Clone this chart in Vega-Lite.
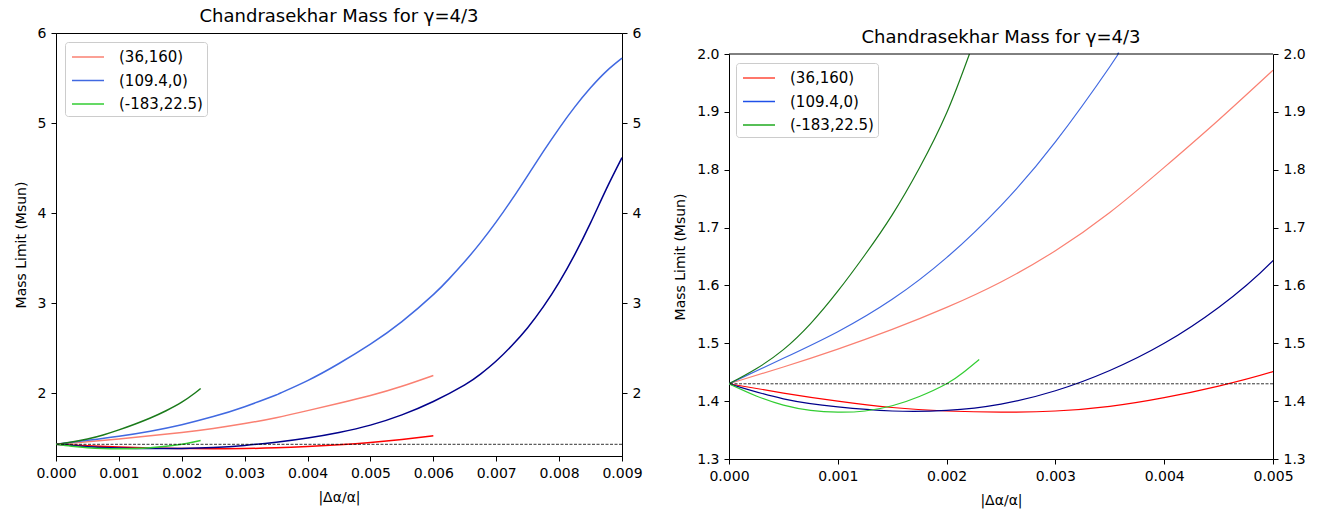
{
  "$schema": "https://vega.github.io/schema/vega-lite/v6.json",
  "background": "white",
  "padding": {"left": 13, "top": 7, "right": 5, "bottom": 5},
  "spacing": 30,
  "datasets": {
    "curves": [
      {"s": "s1u", "x": 0, "y": 1.43}, {"s": "s1u", "x": 0.0005, "y": 1.459}, {"s": "s1u", "x": 0.001, "y": 1.49}, {"s": "s1u", "x": 0.0015, "y": 1.524}, {"s": "s1u", "x": 0.002, "y": 1.562}, {"s": "s1u", "x": 0.0025, "y": 1.606}, {"s": "s1u", "x": 0.003, "y": 1.66}, {"s": "s1u", "x": 0.0035, "y": 1.726}, {"s": "s1u", "x": 0.004, "y": 1.804}, {"s": "s1u", "x": 0.0045, "y": 1.886}, {"s": "s1u", "x": 0.005, "y": 1.972}, {"s": "s1u", "x": 0.0055, "y": 2.075}, {"s": "s1u", "x": 0.006, "y": 2.195},
      {"s": "s2u", "x": 0, "y": 1.43}, {"s": "s2u", "x": 0.0005, "y": 1.474}, {"s": "s2u", "x": 0.001, "y": 1.52}, {"s": "s2u", "x": 0.0015, "y": 1.576}, {"s": "s2u", "x": 0.002, "y": 1.648}, {"s": "s2u", "x": 0.0025, "y": 1.738}, {"s": "s2u", "x": 0.003, "y": 1.848}, {"s": "s2u", "x": 0.0035, "y": 1.978}, {"s": "s2u", "x": 0.00357, "y": 2.0}, {"s": "s2u", "x": 0.004, "y": 2.138}, {"s": "s2u", "x": 0.0045, "y": 2.328}, {"s": "s2u", "x": 0.005, "y": 2.543}, {"s": "s2u", "x": 0.0055, "y": 2.793}, {"s": "s2u", "x": 0.006, "y": 3.093}, {"s": "s2u", "x": 0.00625, "y": 3.268}, {"s": "s2u", "x": 0.0065, "y": 3.461}, {"s": "s2u", "x": 0.00675, "y": 3.671}, {"s": "s2u", "x": 0.007, "y": 3.901}, {"s": "s2u", "x": 0.00725, "y": 4.151}, {"s": "s2u", "x": 0.0075, "y": 4.416}, {"s": "s2u", "x": 0.00775, "y": 4.684}, {"s": "s2u", "x": 0.008, "y": 4.941}, {"s": "s2u", "x": 0.00825, "y": 5.179}, {"s": "s2u", "x": 0.0085, "y": 5.391}, {"s": "s2u", "x": 0.00875, "y": 5.574}, {"s": "s2u", "x": 0.009, "y": 5.72},
      {"s": "s3u", "x": 0, "y": 1.43}, {"s": "s3u", "x": 0.00025, "y": 1.456}, {"s": "s3u", "x": 0.0005, "y": 1.489}, {"s": "s3u", "x": 0.00075, "y": 1.534}, {"s": "s3u", "x": 0.001, "y": 1.59}, {"s": "s3u", "x": 0.00125, "y": 1.653}, {"s": "s3u", "x": 0.0015, "y": 1.722}, {"s": "s3u", "x": 0.00175, "y": 1.803}, {"s": "s3u", "x": 0.002, "y": 1.898}, {"s": "s3u", "x": 0.00221, "y": 2.0}, {"s": "s3u", "x": 0.0023, "y": 2.05},
      {"s": "s1l", "x": 0, "y": 1.43}, {"s": "s1l", "x": 0.0005, "y": 1.414}, {"s": "s1l", "x": 0.001, "y": 1.4}, {"s": "s1l", "x": 0.0015, "y": 1.389}, {"s": "s1l", "x": 0.002, "y": 1.383}, {"s": "s1l", "x": 0.0025, "y": 1.381}, {"s": "s1l", "x": 0.003, "y": 1.383}, {"s": "s1l", "x": 0.0035, "y": 1.391}, {"s": "s1l", "x": 0.004, "y": 1.406}, {"s": "s1l", "x": 0.0045, "y": 1.426}, {"s": "s1l", "x": 0.005, "y": 1.451}, {"s": "s1l", "x": 0.0055, "y": 1.484}, {"s": "s1l", "x": 0.006, "y": 1.525},
      {"s": "s2l", "x": 0, "y": 1.43}, {"s": "s2l", "x": 0.0005, "y": 1.404}, {"s": "s2l", "x": 0.001, "y": 1.39}, {"s": "s2l", "x": 0.0015, "y": 1.383}, {"s": "s2l", "x": 0.002, "y": 1.384}, {"s": "s2l", "x": 0.0025, "y": 1.395}, {"s": "s2l", "x": 0.003, "y": 1.418}, {"s": "s2l", "x": 0.0035, "y": 1.453}, {"s": "s2l", "x": 0.004, "y": 1.5}, {"s": "s2l", "x": 0.0045, "y": 1.562}, {"s": "s2l", "x": 0.005, "y": 1.643}, {"s": "s2l", "x": 0.0055, "y": 1.757}, {"s": "s2l", "x": 0.006, "y": 1.905}, {"s": "s2l", "x": 0.0065, "y": 2.09}, {"s": "s2l", "x": 0.00675, "y": 2.209}, {"s": "s2l", "x": 0.007, "y": 2.355}, {"s": "s2l", "x": 0.00725, "y": 2.528}, {"s": "s2l", "x": 0.0075, "y": 2.726}, {"s": "s2l", "x": 0.00775, "y": 2.959}, {"s": "s2l", "x": 0.008, "y": 3.229}, {"s": "s2l", "x": 0.00825, "y": 3.54}, {"s": "s2l", "x": 0.0085, "y": 3.89}, {"s": "s2l", "x": 0.00875, "y": 4.265}, {"s": "s2l", "x": 0.009, "y": 4.615},
      {"s": "s3l", "x": 0, "y": 1.43}, {"s": "s3l", "x": 0.00025, "y": 1.409}, {"s": "s3l", "x": 0.0005, "y": 1.393}, {"s": "s3l", "x": 0.00075, "y": 1.384}, {"s": "s3l", "x": 0.001, "y": 1.381}, {"s": "s3l", "x": 0.00125, "y": 1.383}, {"s": "s3l", "x": 0.0015, "y": 1.392}, {"s": "s3l", "x": 0.00175, "y": 1.408}, {"s": "s3l", "x": 0.002, "y": 1.43}, {"s": "s3l", "x": 0.00215, "y": 1.449}, {"s": "s3l", "x": 0.0023, "y": 1.472}
    ],
    "ref": [{"y": 1.43}],
    "topspine": [{"y": 2.0}]
  },
  "config": {
    "font": "DejaVu Sans",
    "view": {"stroke": "black", "strokeWidth": 1},
    "axis": {
      "domainColor": "black", "tickColor": "black", "labelColor": "black", "titleColor": "black",
      "grid": false, "labelFontSize": 14, "titleFontSize": 14, "titleFontWeight": "normal",
      "tickSize": 5, "labelPadding": 5, "titlePadding": 9, "domainWidth": 1, "tickWidth": 1,
      "labelFont": "DejaVu Sans", "titleFont": "DejaVu Sans", "labelFlush": false
    },
    "title": {"fontSize": 18, "fontWeight": "normal", "font": "DejaVu Sans", "color": "black", "offset": 0},
    "legend": {
      "orient": "top-left", "offset": 9, "padding": 4, "strokeColor": "#cccccc", "fillColor": "rgba(255,255,255,0.85)",
      "cornerRadius": 3, "symbolType": "M-0.8,0H2.4", "symbolSize": 400, "symbolStrokeWidth": 1.5,
      "labelFontSize": 15, "labelFont": "DejaVu Sans", "labelColor": "black", "labelOffset": 28, "rowPadding": 4.5, "title": null
    }
  },
  "hconcat": [
    {
      "width": 566, "height": 423,
      "title": {"text": "Chandrasekhar Mass for γ=4/3", "dy": 4},
      "layer": [
        {
          "data": {"name": "curves"},
          "mark": {"type": "line", "strokeWidth": 1.5, "interpolate": "natural"},
          "encoding": {
            "x": {"field": "x", "type": "quantitative", "scale": {"domain": [0, 0.009], "nice": false, "zero": false},
                  "axis": {"values": [0, 0.001, 0.002, 0.003, 0.004, 0.005, 0.006, 0.007, 0.008, 0.009], "format": ".3f", "title": "|Δα/α|", "titlePadding": 10}},
            "y": {"field": "y", "type": "quantitative", "scale": {"domain": [1.3, 6], "nice": false, "zero": false},
                  "axis": {"values": [2, 3, 4, 5, 6], "format": "d", "title": "Mass Limit (Msun)"}},
            "color": {"field": "s", "type": "nominal",
                      "scale": {"domain": ["s1u", "s2u", "s3l", "s1l", "s2l", "s3u"], "range": ["#fa8072", "#4169e1", "#32cd32", "#ff0000", "#00008b", "#1a7a1a"]},
                      "legend": {"values": ["s1u", "s2u", "s3l"], "labelExpr": "datum.label == 's1u' ? '(36,160)' : datum.label == 's2u' ? '(109.4,0)' : '(-183,22.5)'"}}
          }
        },
        {
          "data": {"name": "ref"},
          "mark": {"type": "rule", "strokeDash": [3, 1.5], "color": "black", "strokeWidth": 0.8},
          "encoding": {
            "y": {"field": "y", "type": "quantitative", "scale": {"domain": [1.3, 6], "nice": false, "zero": false},
                  "axis": {"orient": "right", "values": [2, 3, 4, 5, 6], "format": "d", "title": null}}
          }
        }
      ],
      "resolve": {"scale": {"y": "independent"}}
    },
    {
      "width": 544, "height": 426,
      "view": {"stroke": null},
      "title": {"text": "Chandrasekhar Mass for γ=4/3", "dy": 18},
      "layer": [
        {
          "data": {"name": "curves"},
          "transform": [{"filter": "datum.y <= 2.0001"}],
          "mark": {"type": "line", "strokeWidth": 1.2, "interpolate": "natural", "clip": true},
          "encoding": {
            "x": {"field": "x", "type": "quantitative", "scale": {"domain": [0, 0.005], "nice": false, "zero": false},
                  "axis": {"values": [0, 0.001, 0.002, 0.003, 0.004, 0.005], "format": ".3f", "title": "|Δα/α|", "titlePadding": 10}},
            "y": {"field": "y", "type": "quantitative", "scale": {"domain": [1.3, 2.0], "range": [426, 21], "nice": false, "zero": false},
                  "axis": {"values": [1.3, 1.4, 1.5, 1.6, 1.7, 1.8, 1.9, 2.0], "format": ".1f", "title": "Mass Limit (Msun)"}},
            "color": {"field": "s", "type": "nominal",
                      "scale": {"domain": ["k1", "k2", "k3", "s1u", "s2u", "s3l", "s1l", "s2l", "s3u"], "range": ["#ff4a3a", "#1f50e8", "#1faa1f", "#fa8072", "#4169e1", "#32cd32", "#ff0000", "#00008b", "#1a7a1a"]},
                      "legend": {"orient": "none", "legendX": 7, "legendY": 30, "values": ["k1", "k2", "k3"], "labelExpr": "datum.label == 'k1' ? '(36,160)' : datum.label == 'k2' ? '(109.4,0)' : '(-183,22.5)'"}}
          }
        },
        {
          "data": {"name": "ref"},
          "mark": {"type": "rule", "strokeDash": [3, 1.5], "color": "black", "strokeWidth": 0.8},
          "encoding": {
            "y": {"field": "y", "type": "quantitative", "scale": {"domain": [1.3, 2.0], "range": [426, 21], "nice": false, "zero": false},
                  "axis": {"orient": "right", "values": [1.3, 1.4, 1.5, 1.6, 1.7, 1.8, 1.9, 2.0], "format": ".1f", "title": null}}
          }
        },
        {
          "data": {"name": "topspine"},
          "mark": {"type": "rule", "color": "black", "strokeWidth": 1},
          "encoding": {
            "y": {"field": "y", "type": "quantitative", "scale": {"domain": [1.3, 2.0], "range": [426, 21], "nice": false, "zero": false}, "axis": null}
          }
        }
      ],
      "resolve": {"scale": {"y": "independent"}}
    }
  ],
  "resolve": {"scale": {"color": "independent", "x": "independent", "y": "independent"}, "legend": {"color": "independent"}}
}
